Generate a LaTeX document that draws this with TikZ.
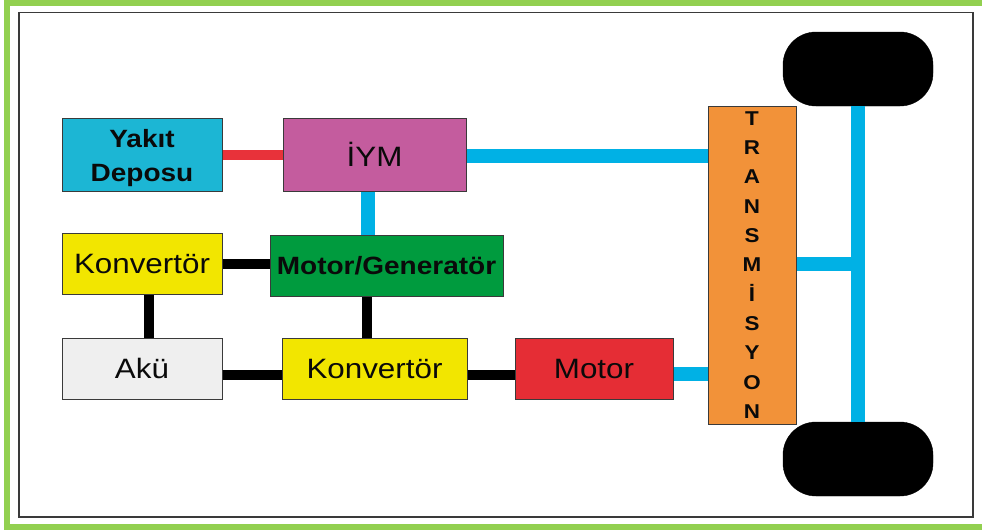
\documentclass[tikz,border=0pt]{standalone}
\usepackage{fontspec}
\setmainfont{Liberation Sans}[FakeStretch=1.12]
\definecolor{tankcol}{HTML}{1CB6D4}
\definecolor{iymcol}{HTML}{C45C9E}
\definecolor{convcol}{HTML}{F2E600}
\definecolor{mgcol}{HTML}{009B3E}
\definecolor{akucol}{HTML}{EFEFEF}
\definecolor{motorcol}{HTML}{E52D35}
\definecolor{transcol}{HTML}{F29239}
\definecolor{shaftcol}{HTML}{00B1E5}
\definecolor{fuelcol}{HTML}{E8323A}
\definecolor{framecol}{HTML}{92D050}
\definecolor{edgecol}{HTML}{3A3A3A}
\definecolor{inkcol}{HTML}{0A0A0A}
\tikzset{
  unit/.style={draw=edgecol, line width=1pt, inner sep=0pt, text=inkcol,
    font=\fontsize{28}{32}\selectfont},
  boldunit/.style={unit, font=\fontsize{25}{34}\selectfont\bfseries, align=center},
  tire/.style={fill=black, draw=black, rounded corners=33pt, inner sep=0pt,
    minimum width=150pt, minimum height=74pt},
  shaft/.style={draw=shaftcol, line width=14pt},
  wire/.style={draw=black, line width=10pt},
  fuel/.style={draw=fuelcol, line width=10pt}
}
\begin{document}
\begin{tikzpicture}[x=1pt, y=-1pt]
  \useasboundingbox (0,0) rectangle (982,531);
  % outer frame and inner border
  \draw[framecol, line width=6pt] (7,3) rectangle (995,527);
  \draw[edgecol, line width=1.5pt] (19,12.5) rectangle (973,517);

  % wheels
  \node[tire] (wtop) at (858,69) {};
  \node[tire] (wbot) at (858,459) {};

  % axle between the wheels
  \coordinate (axle) at (858,264);
  \path[shaft] (wtop.south) -- (wbot.north);

  % blocks
  \node[boldunit, fill=tankcol, minimum width=160pt, minimum height=73pt] (tank) at (142,154.5) {\rule{0pt}{26pt}Yakıt\\Deposu};
  \node[unit, fill=iymcol, minimum width=183pt, minimum height=73pt] (iym) at (374.5,154.5) {İYM};
  \node[unit, fill=convcol, minimum width=160pt, minimum height=61pt] (kt) at (142,263.5) {Konvertör};
  \node[boldunit, fill=mgcol, minimum width=233pt, minimum height=61pt] (mg) at (386.5,265.5) {Motor/Generatör};
  \node[unit, fill=akucol, minimum width=160pt, minimum height=61pt] (aku) at (142,368.5) {Akü};
  \node[unit, fill=convcol, minimum width=185pt, minimum height=61pt] (kb) at (374.5,368.5) {Konvertör};
  \node[unit, fill=motorcol, minimum width=158pt, minimum height=61pt] (motor) at (594,368.5) {Motor};
  \node[unit, fill=transcol, minimum width=88pt, minimum height=318pt, align=center,
        font=\fontsize{20}{29.3}\selectfont\bfseries] (trans) at (752,265)
        {T\\R\\A\\N\\S\\M\\İ\\S\\Y\\O\\N};

  % mechanical links
  \path[fuel] (tank.east) -- (iym.west);
  \path[shaft] ([yshift=-1pt]iym.east) -- ([yshift=-1pt]iym.east -| trans.west);
  \path[shaft] ([xshift=-6.5pt]iym.south) -- ([xshift=-6.5pt]iym.south |- mg.north);
  \path[shaft] ([yshift=-5.5pt]motor.east) -- ([yshift=-5.5pt]motor.east -| trans.west);
  \path[shaft] (trans.east |- axle) -- (axle);

  % electrical links
  \path[wire] (kt.east) -- (kt.east -| mg.west);
  \path[wire] ([xshift=7pt]kt.south) -- ([xshift=7pt]kt.south |- aku.north);
  \path[wire] ([xshift=-7.5pt]kb.north) -- ([xshift=-7.5pt]kb.north |- mg.south);
  \path[wire] ([yshift=-6pt]aku.east) -- ([yshift=-6pt]aku.east -| kb.west);
  \path[wire] ([yshift=-6pt]kb.east) -- ([yshift=-6pt]kb.east -| motor.west);
\end{tikzpicture}
\end{document}
